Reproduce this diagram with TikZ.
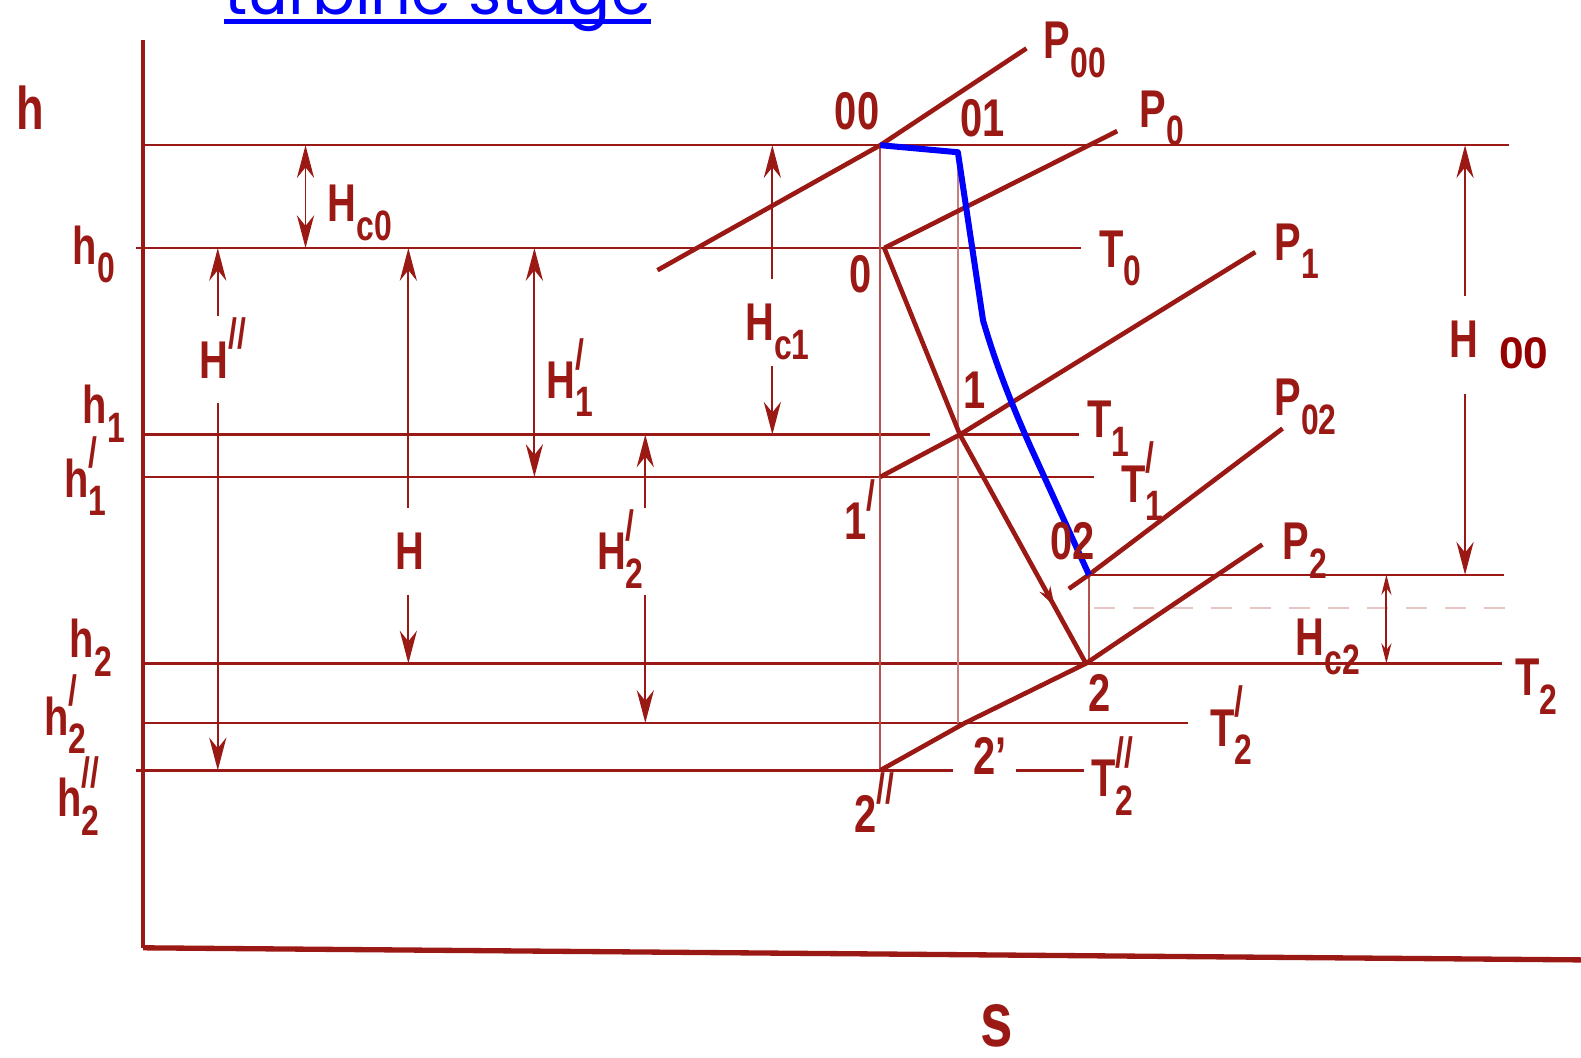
\documentclass[tikz,border=0pt]{standalone}
\usepackage{fontspec}
\setmainfont{Liberation Sans}
\newfontfamily\scanfont{Liberation Sans}[FakeStretch=0.75]
\newfontfamily\linkfont{Poppins}
\usetikzlibrary{arrows.meta,decorations.markings}

\definecolor{scanred}{RGB}{155,25,20}
\definecolor{hred}{RGB}{150,0,0}

% raised and lowered indices as in the scanned labels
\newcommand{\idxup}[1]{\smash{\raisebox{0.55em}{\scalebox{0.8}{#1}}}}
\newcommand{\idxdn}[1]{\smash{\raisebox{-0.35em}{\scalebox{0.8}{#1}}}}
\newcommand{\idxud}[2]{\rlap{\idxup{#1}}\idxdn{#2}}
\newcommand{\ulink}[1]{\setbox0\hbox{#1}\rlap{\rule[-0.15em]{\wd0}{0.07em}}\box0}

\begin{document}
\begin{tikzpicture}[x=0.02cm, y=-0.02cm,
    >={Stealth[length=6.5mm,width=3.4mm]},
    axis/.style={draw=scanred, line width=2pt},
    level/.style={draw=scanred, line width=1.3pt},
    drop/.style={draw=scanred!75, line width=1pt},
    isobar/.style={draw=scanred, line width=2.6pt, line join=round},
    dimline/.style={draw=scanred, line width=1.1pt},
    lbl/.style={text=scanred, anchor=base west, inner sep=1pt,
        font=\scanfont\bfseries\fontsize{30}{32}\selectfont},
    dimlbl/.style={lbl, inner ysep=14pt},
    expansion/.style={draw=blue, line width=3.4pt, line join=round}]

\useasboundingbox (0,0) rectangle (1568,1049);

\node[anchor=base west, inner sep=0pt, text=blue, font=\linkfont\fontsize{40}{44}\selectfont]
    (title) at (222,14) {\resizebox{8.46cm}{!}{\ulink{turbine stage}}};

% axes
\coordinate (hax) at (142,40);
\coordinate (org) at (142,940);
\coordinate (sax) at (1568,952);
\draw[axis] (hax) -- (org);
\draw[axis, line width=3pt] (org) -- (sax);

% state points
\coordinate (p00) at (873,144);
\coordinate (p01) at (950,151);
\coordinate (p0) at (877,246);
\coordinate (p1) at (952,431);
\coordinate (p1p) at (873,473);
\coordinate (p02) at (1080,570);
\coordinate (p2) at (1077,658);
\coordinate (p2p) at (957,717);
\coordinate (p2pp) at (873,764);

% enthalpy levels
\coordinate (a00) at (142,144);
\coordinate (a0) at (135,246);
\coordinate (a1) at (142,431);
\coordinate (a1p) at (142,473);
\coordinate (a2) at (142,658);
\coordinate (a2p) at (142,717);
\coordinate (a2pp) at (135,764);
\coordinate (e00) at (1497,144);
\coordinate (eT0) at (1072,246);
\coordinate (eT1) at (1070,431);
\coordinate (eT1p) at (1085,473);
\coordinate (e02) at (1492,570);
\coordinate (eT2) at (1490,658);
\coordinate (eT2p) at (1178,717);
\coordinate (eT2pp) at (1075,764);

\draw[level] (a00) -- (e00);
\draw[level] (a0) -- (eT0);
\draw[level] (a1) -- (922,431);
\draw[level] (p1) -- (eT1);
\draw[level] (a1p) -- (eT1p);
\draw[level] (p02) -- (e02);
\draw[level] (a2) -- (eT2);
\draw[level] (a2p) -- (eT2p);
\draw[level] (a2pp) -- (945,764);
\draw[level] (1008,764) -- (eT2pp);
\draw[scanred!25, line width=1pt, dash pattern=on 12pt off 10pt] (1085,603) -- (1500,603);

% vertical projections
\draw[drop] (p00) -- (p2pp);
\draw[drop, draw=scanred!55] (p01) -- (p01 |- a2p);
\draw[drop] (p02) -- (p02 |- a2);

% isobars
\draw[isobar] (652,268) -- (p00) -- (1018,48);
\draw[isobar] (p0) -- (1108,130);
\draw[isobar] (p1p) -- (p1) -- (1245,250);
\draw[isobar] (1060,584) -- (p02) -- (1272,425);
\draw[isobar] (p2pp) -- (p2p) -- (p2) -- (1252,540);

% expansion 0 - 1 - 2
\draw[isobar, postaction={decorate}, decoration={markings,
    mark=at position 0.86 with {\arrow{Stealth[length=4mm,width=2.4mm]}}}]
    (p0) -- (p1) -- (p2);

% stagnation line
\draw[expansion] (p00) -- (p01) -- (975,318)
    .. controls (988,362) and (1002,398) .. (1022,443) -- (p02);

% level labels
\node[lbl, font=\scanfont\bfseries\fontsize{34}{36}\selectfont] (lh) at (14,128) {h};
\node[lbl] (lh0) at (70,262) {h\idxdn{0}};
\node[lbl] (lh1) at (80,420) {h\idxdn{1}};
\node[lbl] (lh1p) at (62,493) {h\idxud{/}{1}};
\node[lbl] (lh2) at (67,652) {h\idxdn{2}};
\node[lbl] (lh2p) at (42,729) {h\idxud{/}{2}};
\node[lbl] (lh2pp) at (55,810) {h\idxud{//}{2}};
\node[lbl, font=\scanfont\bfseries\fontsize{44}{46}\selectfont] (ls) at (970,1038) {s};

% point labels
\node[lbl] (l00) at (826,128) {00};
\node[lbl] (l01) at (950,135) {01};
\node[lbl] (l0) at (840,290) {0};
\node[lbl] (l1) at (953,405) {1};
\node[lbl] (l1p) at (835,535) {1\idxup{/}};
\node[lbl] (l02) at (1040,555) {02};
\node[lbl] (l2) at (1077,706) {2};
\node[lbl] (l2p) at (963,768) {2’};
\node[lbl] (l2pp) at (845,826) {2\idxup{//}};

% isobar and isotherm labels
\node[lbl] (lP00) at (1033,58) {P\idxdn{00}};
\node[lbl] (lP0) at (1128,126) {P\idxdn{0}};
\node[lbl] (lT0) at (1088,265) {T\idxdn{0}};
\node[lbl] (lP1) at (1262,258) {P\idxdn{1}};
\node[lbl] (lT1) at (1076,434) {T\idxdn{1}};
\node[lbl] (lT1p) at (1110,498) {T\idxud{/}{1}};
\node[lbl] (lP02) at (1262,412) {P\idxdn{02}};
\node[lbl] (lP2) at (1270,555) {P\idxdn{2}};
\node[lbl] (lT2) at (1501,690) {T\idxdn{2}};
\node[lbl] (lT2p) at (1198,740) {T\idxud{/}{2}};
\node[lbl] (lT2pp) at (1080,790) {T\idxud{//}{2}};

% heat drops
\node[lbl] (lHc0) at (323,220) {H\idxdn{c0}};
\node[dimlbl] (lHpp) at (196,375) {H\idxup{//}};
\node[dimlbl] (lH) at (390,565) {H};
\node[lbl] (lH1p) at (540,395) {H\idxud{/}{1}};
\node[dimlbl] (lHc1) at (737,338) {H\idxdn{c1}};
\node[dimlbl] (lH2p) at (590,565) {H\idxud{/}{2}};
\node[dimlbl] (lH00) at (1435,355)
    {H\rlap{\hspace{0.4em}\raisebox{-0.2em}{\normalfont\bfseries\fontsize{25}{27}\selectfont\color{hred}00}}};
\node[lbl] (lHc2) at (1283,650) {H\idxdn{c2}};

\coordinate (xHc0) at (303,0);
\coordinate (xHpp) at (216,0);
\coordinate (xH) at (405,0);
\coordinate (xH1p) at (530,0);
\coordinate (xHc1) at (766,0);
\coordinate (xH2p) at (640,0);
\coordinate (xH00) at (1453,0);
\coordinate (xHc2) at (1375,0);

\draw[dimline,<->] (xHc0 |- a00) -- (xHc0 |- a0);
\draw[dimline,->] (xHpp |- lHpp.north) -- (xHpp |- a0);
\draw[dimline,->] (xHpp |- lHpp.south) -- (xHpp |- a2pp);
\draw[dimline,->] (xH |- lH.north) -- (xH |- a0);
\draw[dimline,->] (xH |- lH.south) -- (xH |- a2);
\draw[dimline,<->] (xH1p |- a0) -- (xH1p |- a1p);
\draw[dimline,->] (xHc1 |- lHc1.north) -- (xHc1 |- a00);
\draw[dimline,->] (xHc1 |- lHc1.south) -- (xHc1 |- a1);
\draw[dimline,->] (xH2p |- lH2p.north) -- (xH2p |- a1);
\draw[dimline,->] (xH2p |- lH2p.south) -- (xH2p |- a2p);
\draw[dimline,->] (xH00 |- lH00.north) -- (xH00 |- e00);
\draw[dimline,->] (xH00 |- lH00.south) -- (xH00 |- e02);
\draw[dimline,{Stealth[length=4mm,width=2mm]}-{Stealth[length=4mm,width=2mm]}]
    (xHc2 |- e02) -- (xHc2 |- a2);
\end{tikzpicture}
\end{document}
